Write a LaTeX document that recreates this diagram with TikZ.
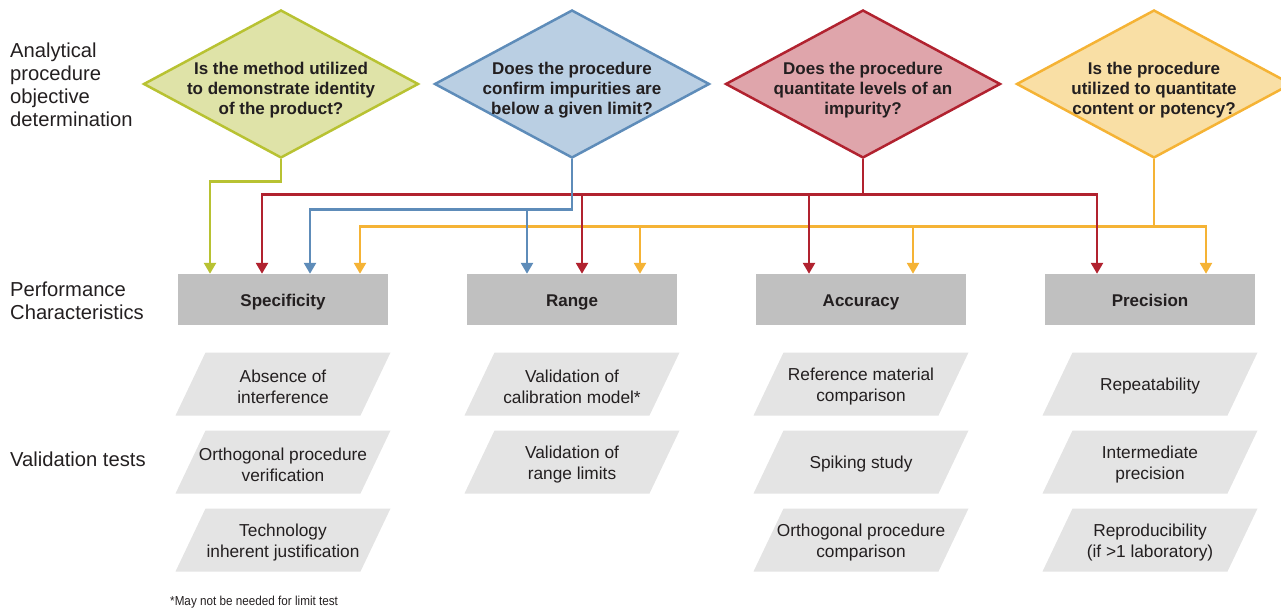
\documentclass[tikz,border=0pt]{standalone}
\usepackage{fontspec}
\setmainfont{Liberation Sans}
\newfontfamily\notefont[FakeStretch=0.9]{Liberation Sans}
\usetikzlibrary{shapes.geometric,arrows.meta}

\definecolor{ink}{HTML}{231F20}
\definecolor{greenline}{HTML}{B8C232}
\definecolor{greenfill}{HTML}{DFE3A8}
\definecolor{blueline}{HTML}{5E8CB9}
\definecolor{bluefill}{HTML}{BACFE3}
\definecolor{redline}{HTML}{B1222F}
\definecolor{redfill}{HTML}{DFA5AB}
\definecolor{yellowline}{HTML}{F5B335}
\definecolor{yellowfill}{HTML}{F9DFA5}
\definecolor{boxgray}{HTML}{C0C0C0}
\definecolor{testgray}{HTML}{E4E4E4}

\tikzset{
  question/.style={diamond, draw, line width=2.5pt, minimum width=275pt,
    minimum height=148pt, inner sep=0pt},
  qtext/.style={align=center, text=ink, inner sep=0pt,
    font=\fontsize{17}{20}\selectfont\bfseries},
  charbox/.style={fill=boxgray, minimum width=210pt, minimum height=51pt,
    inner sep=0pt, text height=17.4pt, text depth=3.6pt, text=ink,
    font=\fontsize{17}{20}\selectfont\bfseries},
  testtext/.style={align=center, text=ink, inner sep=0pt,
    font=\fontsize{17.3}{21}\selectfont},
  rowlabel/.style={anchor=west, align=left, text=ink, inner sep=0pt,
    font=\fontsize{20.2}{23}\selectfont},
  tip/.tip={Triangle[width=12pt,length=11pt]},
  link/.style={line width=2.5pt, -tip},
  twolink/.style={line width=2.5pt, tip-tip},
  stem/.style={line width=2.5pt},
}

% one slanted validation-test cell: name, x, y, text
\newcommand{\testcell}[4]{%
  \fill[testgray] (#2-107.5,#3+31.5) -- (#2-77.5,#3-31.5)
    -- (#2+107.5,#3-31.5) -- (#2+77.5,#3+31.5) -- cycle;
  \node[testtext] (#1) at (#2,#3+2.5) {#4};}

\begin{document}
\begin{tikzpicture}[x=1pt,y=-1pt]
\useasboundingbox (0,0) rectangle (1281,609);
\clip (0,0) rectangle (1281,609);

% row labels
\node[rowlabel] (lblObj) at (10,85) {Analytical\\procedure\\objective\\determination};
\node[rowlabel] (lblPerf) at (10,300.5) {Performance\\Characteristics};
\node[rowlabel] (lblVal) at (10,459) {Validation tests};

% objective questions
\node[question, draw=greenline, fill=greenfill] (qA) at (281,84) {};
\node[question, draw=blueline, fill=bluefill] (qB) at (572,84) {};
\node[question, draw=redline, fill=redfill] (qC) at (863,84) {};
\node[question, draw=yellowline, fill=yellowfill] (qD) at (1154,84) {};
\node[qtext] (qAt) at (281,90) {Is the method utilized\\to demonstrate identity\\of the product?};
\node[qtext] (qBt) at (572,90) {Does the procedure\\confirm impurities are\\below a given limit?};
\node[qtext] (qCt) at (863,90) {Does the procedure\\quantitate levels of an\\impurity?};
\node[qtext] (qDt) at (1154,90) {Is the procedure\\utilized to quantitate\\content or potency?};

% performance characteristics
\node[charbox] (bSpec) at (283,299.5) {Specificity};
\node[charbox] (bRange) at (572,299.5) {Range};
\node[charbox] (bAcc) at (861,299.5) {Accuracy};
\node[charbox] (bPrec) at (1150,299.5) {Precision};

% arrow targets on the top edges of the boxes
\coordinate (tS1) at ([xshift=-73pt]bSpec.north);
\coordinate (tS2) at ([xshift=-21pt]bSpec.north);
\coordinate (tS3) at ([xshift=27pt]bSpec.north);
\coordinate (tS4) at ([xshift=77pt]bSpec.north);
\coordinate (tR1) at ([xshift=-45pt]bRange.north);
\coordinate (tR2) at ([xshift=10pt]bRange.north);
\coordinate (tR3) at ([xshift=68pt]bRange.north);
\coordinate (tA1) at ([xshift=-52pt]bAcc.north);
\coordinate (tA2) at ([xshift=52pt]bAcc.north);
\coordinate (tP1) at ([xshift=-53pt]bPrec.north);
\coordinate (tP2) at ([xshift=56pt]bPrec.north);

% bus levels
\coordinate (gbus) at (0,181.5);
\coordinate (rbus) at (0,194.5);
\coordinate (bbus) at (0,209.5);
\coordinate (ybus) at (0,226.5);

% yellow: content or potency
\draw[stem, yellowline] (qD.south) -- (qD.south |- ybus);
\draw[twolink, yellowline] (tS4) -- (tS4 |- ybus) -- (tP2 |- ybus) -- (tP2);
\draw[link, yellowline] (tR3 |- ybus) -- (tR3);
\draw[link, yellowline] (tA2 |- ybus) -- (tA2);

% red: impurity levels
\draw[stem, redline] (qC.south) -- (qC.south |- rbus);
\draw[twolink, redline] (tS2) -- (tS2 |- rbus) -- (tP1 |- rbus) -- (tP1);
\draw[link, redline] (tR2 |- rbus) -- (tR2);
\draw[link, redline] (tA1 |- rbus) -- (tA1);

% blue: limit test
\draw[link, blueline] (qB.south) |- (tS3 |- bbus) -- (tS3);
\draw[link, blueline] (tR1 |- bbus) -- (tR1);

% green: identity
\draw[link, greenline] (qA.south) |- (tS1 |- gbus) -- (tS1);

% validation tests
\testcell{vS1}{283}{384}{Absence of\\interference}
\testcell{vS2}{283}{462}{Orthogonal procedure\\verification}
\testcell{vS3}{283}{540}{Technology\\inherent justification}
\testcell{vR1}{572}{384}{Validation of\\calibration model*}
\testcell{vR2}{572}{462}{Validation of\\range limits}
\testcell{vA1}{861}{384}{Reference material\\comparison}
\testcell{vA2}{861}{462}{Spiking study}
\testcell{vA3}{861}{540}{Orthogonal procedure\\comparison}
\testcell{vP1}{1150}{384}{Repeatability}
\testcell{vP2}{1150}{462}{Intermediate\\precision}
\testcell{vP3}{1150}{540}{Reproducibility\\(if >1 laboratory)}

% footnote
\node[anchor=west, inner sep=0pt, text=ink, font=\notefont\fontsize{13}{15}\selectfont] (note) at (170,602) {*May not be needed for limit test};
\end{tikzpicture}
\end{document}
